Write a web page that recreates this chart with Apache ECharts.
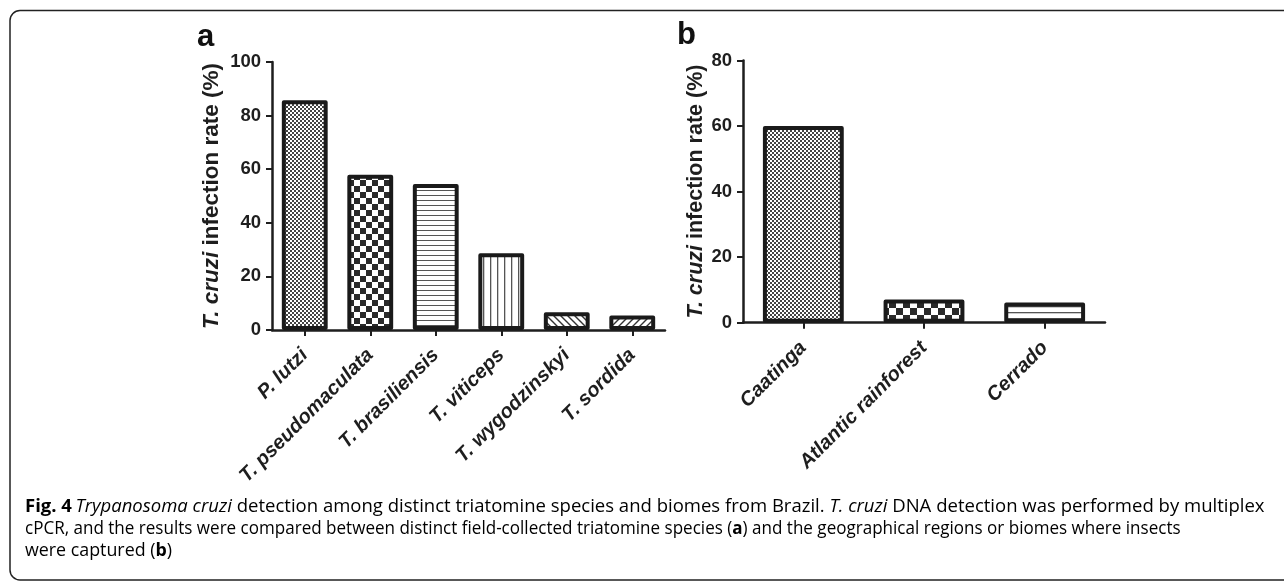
<!DOCTYPE html>
<html>
<head>
<meta charset="utf-8">
<script src="https://cdn.jsdelivr.net/npm/echarts@6/dist/echarts.min.js"></script>
<style>
html,body{margin:0;padding:0;background:#fff;}
#c{width:1284px;height:582px;}
</style>
</head>
<body>
<div id="c"></div>
<script>
// ---- data ----
var speciesCategories = ['P. lutzi', 'T. pseudomaculata', 'T. brasiliensis', 'T. viticeps', 'T. wygodzinskyi', 'T. sordida'];
var speciesRates = [85.7, 57.9, 54.5, 28.6, 6.6, 5.4];
var biomeCategories = ['Caatinga', 'Atlantic rainforest', 'Cerrado'];
var biomeRates = [60.0, 7.1, 6.2];
var speciesTicks = [0, 20, 40, 60, 80, 100];
var biomeTicks = [0, 20, 40, 60, 80];

// ---- patterns ----
function makePattern(type) {
  var c = document.createElement('canvas');
  var ink = '#2a2a2a';
  var ctx;
  if (type === 'fine') {
    c.width = 4; c.height = 4; ctx = c.getContext('2d');
    ctx.fillStyle = '#fff'; ctx.fillRect(0,0,4,4);
    ctx.fillStyle = '#444'; ctx.fillRect(0,0,2,2); ctx.fillRect(2,2,2,2);
  } else if (type === 'checker') {
    c.width = 12; c.height = 12; ctx = c.getContext('2d');
    ctx.fillStyle = '#fff'; ctx.fillRect(0,0,12,12);
    ctx.fillStyle = ink; ctx.fillRect(0,0,6,6); ctx.fillRect(6,6,6,6);
  } else if (type === 'checkerB') {
    c.width = 14; c.height = 14; ctx = c.getContext('2d');
    ctx.fillStyle = '#fff'; ctx.fillRect(0,0,14,14);
    ctx.fillStyle = ink; ctx.fillRect(0,0,7,7); ctx.fillRect(7,7,7,7);
  } else if (type === 'hlines') {
    c.width = 4; c.height = 5; ctx = c.getContext('2d');
    ctx.fillStyle = '#fff'; ctx.fillRect(0,0,4,5);
    ctx.fillStyle = '#555'; ctx.fillRect(0,0,4,1);
  } else if (type === 'hlinesB') {
    c.width = 4; c.height = 6; ctx = c.getContext('2d');
    ctx.fillStyle = '#fff'; ctx.fillRect(0,0,4,6);
    ctx.fillStyle = '#555'; ctx.fillRect(0,0,4,1.3);
  } else if (type === 'vlines') {
    c.width = 7; c.height = 4; ctx = c.getContext('2d');
    ctx.fillStyle = '#fff'; ctx.fillRect(0,0,7,4);
    ctx.fillStyle = '#555'; ctx.fillRect(0,0,1.3,4);
  } else if (type === 'diagBack' || type === 'diagFwd') {
    var s = 7;
    c.width = s; c.height = s; ctx = c.getContext('2d');
    ctx.fillStyle = '#fff'; ctx.fillRect(0,0,s,s);
    ctx.strokeStyle = '#333'; ctx.lineWidth = 1.4;
    ctx.beginPath();
    if (type === 'diagBack') {
      ctx.moveTo(-1,-1); ctx.lineTo(s+1,s+1);
      ctx.moveTo(-1,s-1); ctx.lineTo(1,s+1);
      ctx.moveTo(s-1,-1); ctx.lineTo(s+1,1);
    } else {
      ctx.moveTo(-1,s+1); ctx.lineTo(s+1,-1);
      ctx.moveTo(-1,1); ctx.lineTo(1,-1);
      ctx.moveTo(s-1,s+1); ctx.lineTo(s+1,s-1);
    }
    ctx.stroke();
  }
  return { image: c, repeat: 'repeat' };
}

var speciesPatterns = ['fine', 'checker', 'hlines', 'vlines', 'diagBack', 'diagFwd'];
var biomePatterns = ['fine', 'checkerB', 'hlinesB'];

function buildData(values, patterns) {
  return values.map(function (v, i) {
    return { value: v, itemStyle: { color: makePattern(patterns[i]) } };
  });
}

var FONT = 'Liberation Sans, Arial, sans-serif';
var INK = '#1e1e1e';

function yAxisCfg(gridIndex, max, nameGap, nameSize) {
  return {
    type: 'value', gridIndex: gridIndex, min: 0, max: max, interval: 20,
    name: '{i|T. cruzi} infection rate (%)',
    nameLocation: 'middle', nameRotate: 90, nameGap: nameGap,
    nameTextStyle: {
      fontFamily: FONT, fontWeight: 'bold', fontSize: nameSize, color: INK,
      rich: { i: { fontFamily: FONT, fontWeight: 'bold', fontStyle: 'italic', fontSize: nameSize, color: INK } }
    },
    axisLine: { show: true, lineStyle: { color: INK, width: 2.5 } },
    axisTick: { show: true, length: 6, lineStyle: { color: INK, width: 2 } },
    axisLabel: { fontFamily: FONT, fontWeight: 'bold', fontSize: 18.5, color: INK, margin: 11 },
    splitLine: { show: false }
  };
}

function xAxisCfg(gridIndex, cats) {
  return {
    type: 'category', gridIndex: gridIndex, data: cats,
    axisLine: { show: true, lineStyle: { color: INK, width: 2.5 } },
    axisTick: { show: true, alignWithLabel: true, length: 6, inside: false, lineStyle: { color: INK, width: 2 } },
    axisLabel: { rotate: 45, interval: 0, fontFamily: FONT, fontWeight: 'bold', fontStyle: 'italic', fontSize: 20, color: INK, margin: 22 }
  };
}

var chart = echarts.init(document.getElementById('c'), null, { renderer: 'canvas' });

var captionFont = '"Open Sans", "Noto Sans", sans-serif';
var CAP = '#231f20';
var capRich = {
  b: { fontFamily: captionFont, fontWeight: 'bold', fontSize: 18, color: CAP },
  i: { fontFamily: captionFont, fontStyle: 'italic', fontSize: 18, color: CAP },
  n: { fontFamily: captionFont, fontSize: 18, color: CAP }
};
function capLine(text, y, sx) {
  return { type: 'text', x: 25, y: y, scaleX: sx, originX: 0, originY: 0,
    style: { text: text, rich: capRich, verticalAlign: 'middle', align: 'left' } };
}

chart.setOption({
  backgroundColor: '#fff',
  animation: false,
  grid: [
    { left: 272, right: 619, top: 62, bottom: 252, containLabel: false },
    { left: 743, right: 179, top: 60.5, bottom: 259.3, containLabel: false }
  ],
  xAxis: [xAxisCfg(0, speciesCategories), xAxisCfg(1, biomeCategories)],
  yAxis: [yAxisCfg(0, 100, 49, 22.5), yAxisCfg(1, 80, 34, 21.5)],
  series: [
    {
      type: 'bar', xAxisIndex: 0, yAxisIndex: 0, barWidth: '70%',
      data: buildData(speciesRates, speciesPatterns),
      itemStyle: { borderColor: '#1a1a1a', borderWidth: 4, borderJoin: 'round' }
    },
    {
      type: 'bar', xAxisIndex: 1, yAxisIndex: 1, barWidth: '67%',
      data: buildData(biomeRates, biomePatterns),
      itemStyle: { borderColor: '#1a1a1a', borderWidth: 4, borderJoin: 'round' }
    }
  ],
  graphic: [
    { type: 'rect', shape: { x: 10, y: 10.5, width: 1300, height: 569.5, r: 10 }, style: { fill: null, stroke: '#222', lineWidth: 1.5 }, silent: true, z: -1 },
    { type: 'text', left: 197, top: 22, style: { text: 'a', font: 'bold 31px ' + FONT, fill: '#111' } },
    { type: 'text', left: 677, top: 20, style: { text: 'b', font: 'bold 31px ' + FONT, fill: '#111' } },
    capLine('{b|Fig. 4} {i|Trypanosoma cruzi}{n| detection among distinct triatomine species and biomes from Brazil. }{i|T. cruzi}{n| DNA detection was performed by multiplex}', 507, 1.029),
    capLine('{n|cPCR, and the results were compared between distinct field-collected triatomine species (}{b|a}{n|) and the geographical regions or biomes where insects}', 529, 0.947),
    capLine('{n|were captured (}{b|b}{n|)}', 551, 0.99)
  ]
});
</script>
</body>
</html>
